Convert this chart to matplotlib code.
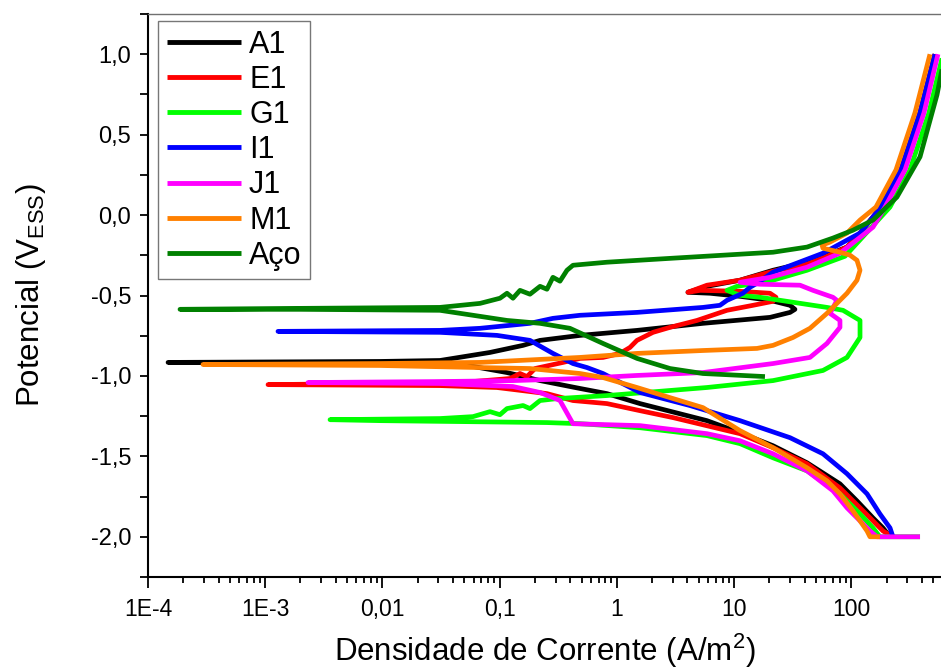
import numpy as np
import matplotlib
matplotlib.use('Agg')
import matplotlib.pyplot as plt
from matplotlib.ticker import FixedLocator, FixedFormatter, NullFormatter

plt.rcParams['font.family'] = ['Liberation Sans', 'DejaVu Sans']
plt.rcParams['mathtext.fontset'] = 'custom'
plt.rcParams['mathtext.rm'] = 'Liberation Sans'
plt.rcParams['mathtext.it'] = 'Liberation Sans:italic'

labels = ['A1', 'E1', 'G1', 'I1', 'J1', 'M1', 'Aço']
colors = ['#000000', '#FF0000', '#00FF00', '#0000FF', '#FF00FF', '#FF8000', '#008000']

# log10 of current density (A/m^2) and potential (V_ESS) for each sample
A1_logi = [2.331, 2.271, 2.186, 2.049, 1.904, 1.623, 1.333, 1.051, 0.769, 0.198, -0.084, -0.314,
           -0.655, -0.937, -1.227, -2.021, -3.829,
           -2.021, -1.509, -1.082, -0.800, -0.655, -0.314, 0.172, 0.735, 1.307, 1.478, 1.520, 1.478,
           1.307, 1.051, 0.795, 0.607, 0.769, 1.051, 1.333, 1.623, 1.793, 1.964, 2.075, 2.254,
           2.425, 2.587, 2.715]
A1_E = [-2.00, -1.945, -1.883, -1.777, -1.671, -1.540, -1.434, -1.353, -1.278, -1.172, -1.110, -1.078,
        -1.029, -0.979, -0.941, -0.923, -0.916,
        -0.910, -0.904, -0.854, -0.810, -0.779, -0.748, -0.717, -0.673, -0.636, -0.605, -0.586, -0.561,
        -0.530, -0.505, -0.486, -0.480, -0.443, -0.405, -0.343, -0.293, -0.249, -0.199, -0.112, 0.050,
        0.281, 0.636, 1.00]

E1_logi = [2.356, 2.271, 2.186, 2.075, 1.904, 1.623, 1.333, 1.051, 0.479, 0.198, -0.084, -0.374,
           -0.596, -1.022, -1.509, -2.976,
           -2.021, -1.227, -0.911, -0.826, -0.766, -0.698, -0.459, -0.314, -0.118, 0.027, 0.112, 0.172,
           0.309, 0.454, 0.684, 0.940, 1.162, 1.333, 1.358, 1.307, 1.051, 0.710, 0.607, 0.769, 1.051,
           1.333, 1.623, 1.793, 1.964, 2.075, 2.254, 2.425, 2.587, 2.715]
E1_E = [-2.00, -1.964, -1.901, -1.820, -1.696, -1.546, -1.446, -1.359, -1.259, -1.216, -1.172, -1.153,
        -1.110, -1.072, -1.060, -1.054,
        -1.047, -1.035, -1.016, -0.985, -1.004, -0.954, -0.916, -0.891, -0.885, -0.860, -0.823, -0.779,
        -0.729, -0.698, -0.655, -0.592, -0.561, -0.536, -0.511, -0.486, -0.474, -0.468, -0.480, -0.436,
        -0.405, -0.349, -0.305, -0.256, -0.199, -0.112, 0.050, 0.281, 0.636, 1.00]

G1_logi = [2.587, 2.245, 2.186, 2.075, 1.904, 1.623, 1.333, 1.051, 0.769, 0.198, -0.314, -0.596,
           -2.021, -2.447,
           -1.509, -1.227, -1.082, -0.997, -0.937, -0.800, -0.741, -0.655, -0.510, -0.084, 0.769, 1.333,
           1.759, 1.964, 2.075, 2.075, 1.930, 1.793, 1.503, 1.222, 1.051, 0.940, 1.025, 1.196, 1.333,
           1.623, 1.947, 2.331, 2.501, 2.663, 2.783]
G1_E = [-2.00, -2.00, -1.945, -1.858, -1.733, -1.590, -1.509, -1.421, -1.371, -1.322, -1.297, -1.290,
        -1.278, -1.272,
        -1.265, -1.253, -1.222, -1.241, -1.203, -1.184, -1.203, -1.153, -1.141, -1.122, -1.072, -1.029,
        -0.966, -0.885, -0.761, -0.655, -0.592, -0.574, -0.542, -0.511, -0.499, -0.468, -0.443, -0.424,
        -0.405, -0.343, -0.256, 0.050, 0.281, 0.636, 1.00]

I1_logi = [2.356, 2.331, 2.245, 2.135, 1.964, 1.759, 1.478, 1.051, 0.624, 0.198, -0.118, -0.254,
           -0.374, -0.545, -0.741, -1.022, -1.509, -2.891,
           -1.509, -1.167, -0.741, -0.545, -0.314, 0.172, 0.735, 0.880, 0.940, 1.076, 1.136, 1.196,
           1.333, 1.759, 2.075, 2.254, 2.425, 2.587, 2.715]
I1_E = [-2.00, -1.945, -1.858, -1.733, -1.608, -1.484, -1.384, -1.278, -1.184, -1.103, -0.985, -0.948,
        -0.923, -0.860, -0.779, -0.748, -0.729, -0.723,
        -0.717, -0.704, -0.673, -0.642, -0.623, -0.605, -0.574, -0.561, -0.530, -0.486, -0.449, -0.424,
        -0.355, -0.237, -0.112, 0.050, 0.281, 0.636, 1.00]

J1_logi = [2.587, 2.220, 2.160, 2.075, 1.964, 1.844, 1.623, 1.333, 1.051, 0.769, 0.198, -0.374,
           -0.485, -0.545, -0.655, -0.886, -1.509, -2.635,
           -1.509, -0.886, -0.314, 0.172, 0.735, 1.333, 1.648, 1.793, 1.904, 1.904, 1.819, 1.878,
           1.844, 1.674, 1.563, 1.222, 1.051, 1.307, 1.623, 1.904, 2.186, 2.288, 2.459, 2.621, 2.740]
J1_E = [-2.00, -2.00, -1.964, -1.901, -1.820, -1.714, -1.590, -1.484, -1.403, -1.359, -1.309, -1.297,
        -1.153, -1.135, -1.103, -1.066, -1.047, -1.041,
        -1.035, -1.029, -1.016, -0.997, -0.979, -0.923, -0.885, -0.798, -0.698, -0.655, -0.611, -0.530,
        -0.511, -0.468, -0.436, -0.430, -0.418, -0.387, -0.324, -0.237, -0.075, 0.050, 0.281, 0.636, 1.00]

M1_logi = [2.245, 2.160, 2.135, 2.075, 2.015, 1.904, 1.793, 1.623, 1.333, 1.051, 0.735, 0.454,
           0.172, -0.118, -0.314, -0.741, -1.167, -2.021, -3.531,
           -2.021, -1.167, -0.314, 0.172, 0.735, 1.196, 1.333, 1.503, 1.648, 1.793, 1.964, 2.049,
           2.075, 2.049, 1.989, 1.904, 1.759, 1.751, 1.819, 1.964, 2.075, 2.211, 2.382, 2.544, 2.672]
M1_E = [-2.00, -2.00, -1.964, -1.901, -1.839, -1.733, -1.652, -1.571, -1.446, -1.340, -1.197, -1.135,
        -1.072, -1.010, -0.985, -0.954, -0.948, -0.935, -0.929,
        -0.923, -0.916, -0.885, -0.860, -0.842, -0.829, -0.810, -0.761, -0.704, -0.611, -0.486, -0.405,
        -0.343, -0.281, -0.249, -0.231, -0.206, -0.187, -0.168, -0.112, -0.031, 0.050, 0.281, 0.636, 1.00]

Aco_logi = [1.264, 0.735, 0.454, 0.172, -0.118, -0.400, -0.655, -0.937, -1.227, -1.509, -2.703, -3.727,
            -2.703, -1.509, -1.167, -0.997, -0.937, -0.886, -0.826, -0.741, -0.655, -0.596, -0.545,
            -0.485, -0.425, -0.374, -0.084, 0.479, 1.333, 1.623, 1.844, 2.015, 2.186, 2.390, 2.587,
            2.732, 2.800]
Aco_E = [-1.004, -0.985, -0.954, -0.891, -0.798, -0.704, -0.673, -0.655, -0.623, -0.592, -0.586, -0.586,
         -0.580, -0.574, -0.549, -0.517, -0.486, -0.517, -0.468, -0.492, -0.443, -0.461, -0.387,
         -0.411, -0.343, -0.312, -0.293, -0.268, -0.231, -0.199, -0.143, -0.094, -0.031, 0.112, 0.362,
         0.748, 1.00]

series_logi = [A1_logi, E1_logi, G1_logi, I1_logi, J1_logi, M1_logi, Aco_logi]
series_E = [A1_E, E1_E, G1_E, I1_E, J1_E, M1_E, Aco_E]

x_major = [1e-4, 1e-3, 1e-2, 1e-1, 1, 10, 100]
x_major_labels = ['1E-4', '1E-3', '0,01', '0,1', '1', '10', '100']
y_major = [-2.0, -1.5, -1.0, -0.5, 0.0, 0.5, 1.0]
y_major_labels = ['-2,0', '-1,5', '-1,0', '-0,5', '0,0', '0,5', '1,0']

W, H = 941, 671
fig = plt.figure(figsize=(W / 100, H / 100), dpi=100)
ax = fig.add_axes([148 / W, (H - 577) / H, (W - 148) / W, (577 - 14) / H])

for lab, col, li, ee in zip(labels, colors, series_logi, series_E):
    ax.plot(10 ** np.array(li), ee, color=col, lw=3.4, label=lab,
            solid_joinstyle='round', solid_capstyle='butt')

ax.set_xscale('log')
ax.set_xlim(1e-4, 10 ** 2.766)
ax.set_ylim(-2.25, 1.25)

ax.xaxis.set_major_locator(FixedLocator(x_major))
ax.xaxis.set_major_formatter(FixedFormatter(x_major_labels))
x_minor = [k * 10.0 ** n for n in range(-4, 3) for k in range(2, 10)]
ax.xaxis.set_minor_locator(FixedLocator(x_minor))
ax.xaxis.set_minor_formatter(NullFormatter())

ax.yaxis.set_major_locator(FixedLocator(y_major))
ax.yaxis.set_major_formatter(FixedFormatter(y_major_labels))
ax.yaxis.set_minor_locator(FixedLocator([v + 0.25 for v in [-2.5] + y_major]))
ax.yaxis.set_minor_formatter(NullFormatter())

ax.tick_params(axis='both', which='both', direction='out', width=1.3, colors='black',
               top=False, right=False)
ax.tick_params(axis='x', which='major', length=8, labelsize=16.5, pad=7)
ax.tick_params(axis='x', which='minor', length=4)
ax.tick_params(axis='y', which='major', length=6, labelsize=17, pad=6)
ax.tick_params(axis='y', which='minor', length=6)

for s in ['left', 'bottom']:
    ax.spines[s].set_linewidth(1.5)
    ax.spines[s].set_color('black')
ax.spines['top'].set_color('#707070')
ax.spines['top'].set_linewidth(1.0)
ax.spines['right'].set_visible(False)

ax.set_xlabel('Densidade de Corrente (A/m$^2$)', fontsize=22.5, labelpad=8)
ax.set_ylabel('Potencial (V$_{\\mathrm{ESS}}$)', fontsize=22.5, labelpad=31)

leg = ax.legend(loc='upper left', bbox_to_anchor=(10 / 793, 1 - 7 / 563), borderaxespad=0,
                fontsize=22, frameon=True, fancybox=False, edgecolor='#555555',
                handlelength=2.45, handletextpad=0.25, labelspacing=0.17, borderpad=0.28)
leg.get_frame().set_linewidth(1.0)
for line in leg.get_lines():
    line.set_linewidth(3.5)

fig.savefig('out.png', dpi=100)
